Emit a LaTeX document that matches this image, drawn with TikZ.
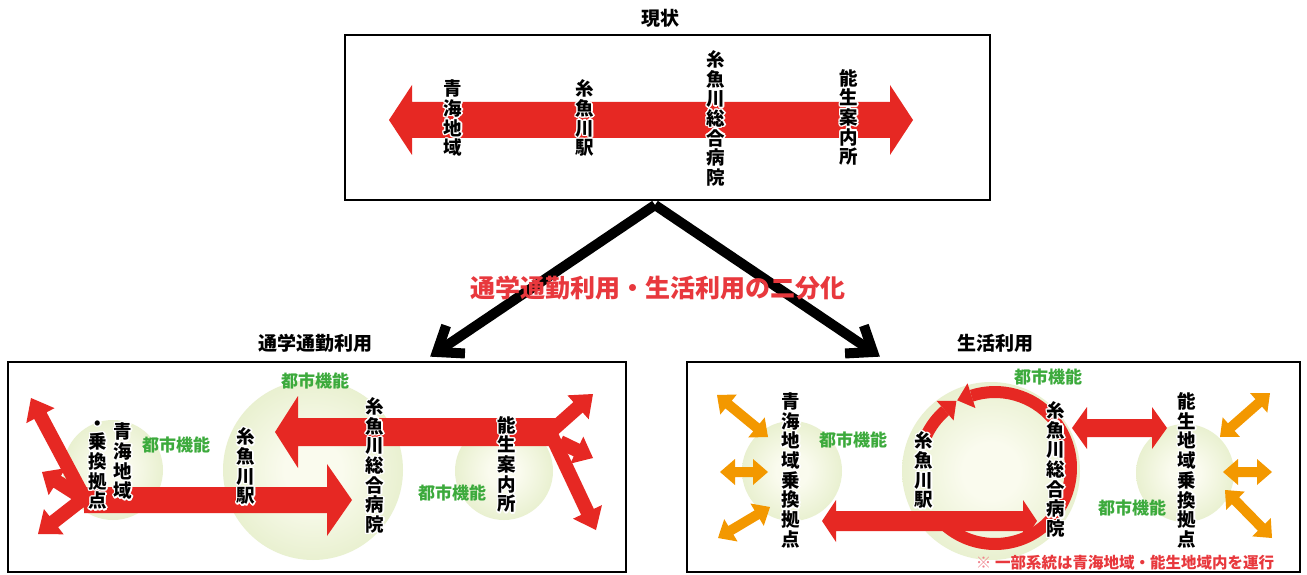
\documentclass[tikz,border=0pt]{standalone}
\usepackage{fontspec}
\setmainfont{Noto Sans CJK JP}
\usepackage{contour}
\contourlength{1.3pt}
\usetikzlibrary{calc}
\definecolor{arrred}{RGB}{230,40,35}
\definecolor{arrorange}{RGB}{243,152,0}
\definecolor{cityg}{RGB}{60,170,60}
\definecolor{notered}{RGB}{232,56,61}
\definecolor{notepink}{RGB}{240,130,140}
\definecolor{ballin}{RGB}{250,251,238}
\definecolor{ballmid}{RGB}{226,236,196}
\definecolor{ballout}{RGB}{196,215,146}
\pgfdeclareradialshading{ballshade}{\pgfpoint{0bp}{0bp}}{color(0bp)=(ballin); color(8bp)=(ballin); color(32bp)=(ballmid); color(50bp)=(ballout)}
\makeatletter
\newcommand\vtext[1]{\vbox{\baselineskip=19.7pt\lineskiplimit=-\maxdimen\lineskip=0pt\vt@aux#1\@nil}}
\def\vt@aux#1{\ifx#1\@nil\else\hbox to 1em{\hss\contour{white}{#1}\hss}\expandafter\vt@aux\fi}
\makeatother
% fat single-headed arrow: [colour]{from}{to}{shaft half width}{head half width}{head length}
\newcommand\fatarrow[6][arrred]{%
  \fill[#1] let \p1=(#2), \p2=(#3), \n1={atan2(\y2-\y1,\x2-\x1)}, \n2={veclen(\x2-\x1,\y2-\y1)} in
    ($(\p1)+(\n1+90:#4pt)$) -- ($(\p1)+(\n1:\n2-#6pt)+(\n1+90:#4pt)$) --
    ($(\p1)+(\n1:\n2-#6pt)+(\n1+90:#5pt)$) -- (\p2) --
    ($(\p1)+(\n1:\n2-#6pt)+(\n1-90:#5pt)$) -- ($(\p1)+(\n1:\n2-#6pt)+(\n1-90:#4pt)$) --
    ($(\p1)+(\n1-90:#4pt)$) -- cycle;}
% fat double-headed arrow
\newcommand\dblarrow[6][arrred]{%
  \fill[#1] let \p1=(#2), \p2=(#3), \n1={atan2(\y2-\y1,\x2-\x1)}, \n2={veclen(\x2-\x1,\y2-\y1)} in
    (\p1) -- ($(\p1)+(\n1:#6pt)+(\n1+90:#5pt)$) -- ($(\p1)+(\n1:#6pt)+(\n1+90:#4pt)$) --
    ($(\p1)+(\n1:\n2-#6pt)+(\n1+90:#4pt)$) -- ($(\p1)+(\n1:\n2-#6pt)+(\n1+90:#5pt)$) --
    (\p2) -- ($(\p1)+(\n1:\n2-#6pt)+(\n1-90:#5pt)$) -- ($(\p1)+(\n1:\n2-#6pt)+(\n1-90:#4pt)$) --
    ($(\p1)+(\n1:#6pt)+(\n1-90:#4pt)$) -- ($(\p1)+(\n1:#6pt)+(\n1-90:#5pt)$) -- cycle;}
\begin{document}
\begin{tikzpicture}[x=1pt,y=-1pt,
  panel/.style={draw=black, line width=2.2pt, fill=white, inner sep=0pt},
  title/.style={font=\bfseries\fontsize{19}{22}\selectfont, inner sep=0pt},
  vlab/.style={inner sep=0pt, font=\bfseries\fontsize{18.5}{19.7}\selectfont},
  cityfn/.style={text=cityg, inner sep=0pt, font=\bfseries\fontsize{17}{20}\selectfont},
  ball/.style={circle, inner sep=0pt, shade, shading=ballshade},
  blackarr/.style={draw=black, line width=10pt},
]
\useasboundingbox (0,0) rectangle (1307,575);
\fill[white] (0,0) rectangle (1307,575);

% titles
\node[title] (ttl0) at (660,18) {現状};
\node[title] (ttl1) at (315,343) {通学通勤利用};
\node[title] (ttl2) at (995,343) {生活利用};

% boxes
\node[panel, minimum width=645pt, minimum height=165pt] (topbox) at (667.5,117.5) {};
\node[panel, minimum width=618pt, minimum height=210pt] (lbox) at (317,467) {};
\node[panel, minimum width=613pt, minimum height=210pt] (rbox) at (993.5,467) {};

% ---------- top box ----------
\dblarrow{389,120}{913,120}{18}{35}{23}
\node[vlab] (t1) at (453,119) {\vtext{青海地域}};
\node[vlab] (t2) at (585,119) {\vtext{糸魚川駅}};
\node[vlab] (t3) at (716,119) {\vtext{糸魚川総合病院}};
\node[vlab] (t4) at (849,118) {\vtext{能生案内所}};

% ---------- black split arrows ----------
\coordinate (split) at (655,205);
\coordinate (lv) at (437,352);
\coordinate (rv) at (873,352);
\draw[blackarr] (split) -- (lv);
\draw[blackarr] (split) -- (rv);
\draw[blackarr, line join=miter, miter limit=10] ($(lv)!28pt!37:(split)$) -- (lv) -- ($(lv)!28pt!-37:(split)$);
\draw[blackarr, line join=miter, miter limit=10] ($(rv)!28pt!37:(split)$) -- (rv) -- ($(rv)!28pt!-37:(split)$);
\node[font=\bfseries\fontsize{25}{28}\selectfont, text=notered, inner sep=0pt] (splitlabel) at (658,288) {通学通勤利用・生活利用の二分化};

% ---------- left panel ----------
\node[ball, minimum size=100pt] (cl1) at (113,470) {};
\node[ball, minimum size=180pt] (cl2) at (313,470) {};
\node[ball, minimum size=98pt] (cl3) at (504,471) {};
\fatarrow{84,500}{352,500}{13}{36}{25}
\fatarrow{88,505}{31,398}{7}{16}{20}
\fatarrow{86,500}{42,472}{7}{16}{18}
\fatarrow{88,495}{38,534}{7}{16}{20}
\fatarrow{556,432}{275,432}{14}{36}{23}
\fatarrow{548,434}{593,394}{7}{16}{20}
\fatarrow{548,428}{596,530}{7}{16}{20}
\fatarrow{560,442}{593,458}{7}{15}{18}
\node[cityfn] (g1) at (176,445) {都市機能};
\node[cityfn] (g2) at (315,381) {都市機能};
\node[cityfn] (g3) at (452,493) {都市機能};
\node[vlab] (l1) at (123,462) {\vtext{青海地域}};
\node[vlab] (l1b) at (98,472) {\vtext{乗換拠点}};
\node[vlab] (l1c) at (98,426) {\contour{white}{・}};
\node[vlab] (l2) at (246,467) {\vtext{糸魚川駅}};
\node[vlab] (l3) at (375,466) {\vtext{糸魚川総合病院}};
\node[vlab] (l4) at (507,465) {\vtext{能生案内所}};

% ---------- right panel ----------
\node[ball, minimum size=100pt] (cr1) at (792,471) {};
\node[ball, minimum size=178pt] (cr2) at (991,471) {};
\node[ball, minimum size=98pt] (cr3) at (1185,473) {};
\coordinate (ringc) at (995,468);
\draw[arrred, line width=12pt] (ringc) ++(139:76) arc[start angle=139, end angle=-108, radius=76];
\draw[arrred, line width=12pt] (ringc) ++(205:76) arc[start angle=205, end angle=229, radius=76];
\fatarrow{971.5,395.7}{957.2,400.3}{0}{13}{15}
\fatarrow{945.1,410.6}{956.4,400.8}{0}{13}{15}
\dblarrow{822,521}{1037,521}{10}{21}{14}
\dblarrow{1072,428}{1167,428}{9}{21}{15}
\dblarrow[arrorange]{717,395}{768,437}{5}{13}{15}
\dblarrow[arrorange]{720,472}{768,472}{5}{13}{15}
\dblarrow[arrorange]{718,538}{770,507}{5}{13}{15}
\dblarrow[arrorange]{1220,437}{1270,393}{5}{13}{15}
\dblarrow[arrorange]{1223,472}{1272,472}{5}{13}{15}
\dblarrow[arrorange]{1225,490}{1272,538}{5}{13}{15}
\node[cityfn] (g4) at (853,440) {都市機能};
\node[cityfn] (g5) at (1048,377) {都市機能};
\node[cityfn] (g6) at (1132,508) {都市機能};
\node[vlab] (r1) at (791,471) {\vtext{青海地域乗換拠点}};
\node[vlab] (r2) at (924,471) {\vtext{糸魚川駅}};
\node[vlab] (r3) at (1056,470) {\vtext{糸魚川総合病院}};
\node[vlab] (r4) at (1187,471) {\vtext{能生地域乗換拠点}};
\node[inner sep=0pt, font=\bfseries\fontsize{15.5}{18}\selectfont, text=notered] (note) at (1125,563) {\textcolor{notepink}{※}\ 一部系統は青海地域・能生地域内を運行};
\end{tikzpicture}
\end{document}
